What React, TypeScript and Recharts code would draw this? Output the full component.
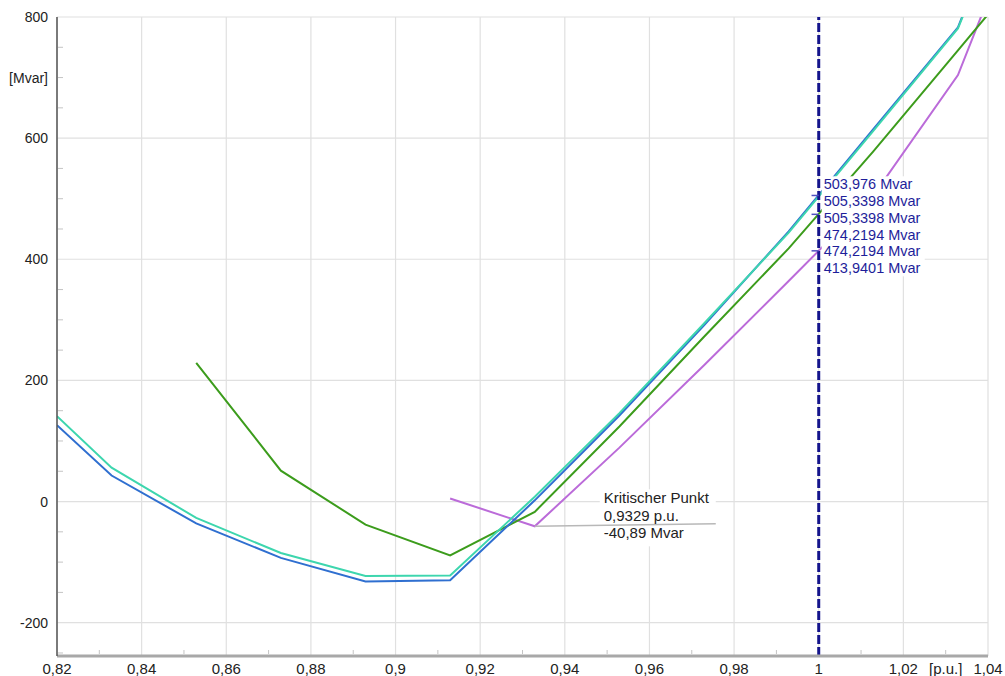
import React from 'react';
import { LineChart, Line, XAxis, YAxis, CartesianGrid, ReferenceLine, ReferenceDot } from 'recharts';

// voltage [p.u.] and reactive power [Mvar] per curve
const voltage = [0.82, 0.8329, 0.8529, 0.8729, 0.8929, 0.9129, 0.9329, 0.9529, 0.9729, 0.9929, 1.0129, 1.0329, 1.0529];
const qBlue = [126, 43, -36, -93, -132, -130, 2, 142, 291, 446, 615, 783, 1130];
const qTeal = [141, 56, -27, -85, -123, -122, 8, 146, 294, 444, 612, 781, 1130];
const qGreen = [null, null, 229, 51, -38, -89, -17, 124, 272, 418, 578, 745, 912];
const qPurple = [null, null, null, null, null, 5, -40.89, 89, 225, 364, 505, 704, 1058];

const xTicks = [0.82, 0.83, 0.84, 0.85, 0.86, 0.87, 0.88, 0.89, 0.9, 0.91, 0.92, 0.93, 0.94, 0.95, 0.96, 0.97, 0.98, 0.99, 1, 1.01, 1.02, 1.03, 1.04];
const xGridTicks = [0.82, 0.84, 0.86, 0.88, 0.9, 0.92, 0.94, 0.96, 0.98, 1, 1.02, 1.04];
const yTicks = [-250, -200, -150, -100, -50, 0, 50, 100, 150, 200, 250, 300, 350, 400, 450, 500, 550, 600, 650, 700, 750, 800];
const yGridTicks = [-200, 0, 200, 400, 600, 800];

const cursorU = 1;
const cursorValues = [503.976, 505.3398, 505.3398, 474.2194, 474.2194, 413.9401];
const cursorMarks = [505.3398, 474.2194, 413.9401];

const criticalU = 0.9329;
const criticalQ = -40.89;
const criticalLines = ['Kritischer Punkt', '0,9329 p.u.', '-40,89 Mvar'];

const data = voltage.map((u, i) => ({
  u,
  blue: qBlue[i],
  teal: qTeal[i],
  green: qGreen[i],
  purple: qPurple[i],
}));

const FONT = '"Liberation Sans", Arial, sans-serif';

const fmt = (v: number) => String(Math.round(v * 100) / 100).replace('.', ',');

const XTick = (props: any) => {
  const { x, y, payload } = props;
  const k = Math.round(payload.value * 100);
  const isUnit = k === 103;
  if (k % 2 === 1 && !isUnit) {
    return <line x1={x} x2={x} y1={y - 2} y2={y - 6} stroke="#c4c4c4" />;
  }
  return (
    <g>
      {isUnit && <line x1={x} x2={x} y1={y - 2} y2={y - 6} stroke="#c4c4c4" />}
      <text x={x} y={y + 18} textAnchor="middle" fontSize={15} fontFamily={FONT} fill="#222">
        {isUnit ? '[p.u.]' : fmt(payload.value)}
      </text>
    </g>
  );
};

const YTick = (props: any) => {
  const { x, y, payload } = props;
  const v = payload.value;
  if (v % 200 === 0) {
    return (
      <text x={x - 9} y={y + 5} textAnchor="end" fontSize={14} fontFamily={FONT} fill="#222">
        {v}
      </text>
    );
  }
  return (
    <g>
      <line x1={x + 1} x2={x + 6} y1={y} y2={y} stroke="#c4c4c4" />
      {v === 700 && (
        <text x={x - 9} y={y + 5} textAnchor="end" fontSize={14} fontFamily={FONT} fill="#222">
          [Mvar]
        </text>
      )}
    </g>
  );
};

const CursorLabels = (props: any) => {
  const { cx, cy } = props;
  return (
    <g>
      <rect x={cx + 3} y={cy - 20} width={103} height={100} fill="#fff" />
      {cursorValues.map((v, i) => (
        <text key={i} x={cx + 5} y={cy - 7 + i * 16.8} fontSize={14.5} fontFamily={FONT} fill="#1e1e9a">
          {String(v).replace('.', ',')} Mvar
        </text>
      ))}
    </g>
  );
};

const CriticalLabel = (props: any) => {
  const { cx, cy } = props;
  return (
    <g>
      <rect x={cx + 65} y={cy - 37} width={116} height={57} fill="#fff" />
      <line x1={cx} y1={cy} x2={cx + 181} y2={cy - 2.5} stroke="#b8b8b8" strokeWidth={1.5} />
      {criticalLines.map((t, i) => (
        <text key={i} x={cx + 69} y={cy - 23 + i * 17.5} fontSize={15} fontFamily={FONT} fill="#222">
          {t}
        </text>
      ))}
    </g>
  );
};

export default function App() {
  return (
    <div style={{ position: 'absolute', left: 0, top: 0, background: '#fff' }}>
      <LineChart width={1005} height={676} data={data} margin={{ top: 17, right: 17, left: 0, bottom: 0 }}>
        <XAxis xAxisId="grid" dataKey="u" type="number" domain={[0.82, 1.04]} ticks={xGridTicks} allowDataOverflow hide />
        <YAxis yAxisId="grid" type="number" domain={[-255, 800]} ticks={yGridTicks} allowDataOverflow hide />
        <CartesianGrid xAxisId="grid" yAxisId="grid" stroke="#e0e0e0" strokeWidth={1.2} />
        <XAxis
          dataKey="u"
          type="number"
          domain={[0.82, 1.04]}
          ticks={xTicks}
          interval={0}
          allowDataOverflow
          height={20}
          tickSize={0}
          tickMargin={0}
          tickLine={false}
          axisLine={{ stroke: '#a8a8a8', strokeWidth: 3 }}
          tick={<XTick />}
        />
        <YAxis
          type="number"
          domain={[-255, 800]}
          ticks={yTicks}
          interval={0}
          allowDataOverflow
          width={57}
          tickSize={0}
          tickMargin={0}
          tickLine={false}
          axisLine={{ stroke: '#555', strokeWidth: 1.5 }}
          tick={<YTick />}
        />
        <Line dataKey="purple" stroke="#bb6bd9" strokeWidth={2} dot={false} activeDot={false} isAnimationActive={false} />
        <Line dataKey="green" stroke="#3c9c1c" strokeWidth={2} dot={false} activeDot={false} isAnimationActive={false} />
        <Line dataKey="blue" stroke="#2f6fd0" strokeWidth={2} dot={false} activeDot={false} isAnimationActive={false} />
        <Line dataKey="teal" stroke="#3dd6ae" strokeWidth={2} dot={false} activeDot={false} isAnimationActive={false} />
        <ReferenceLine x={cursorU} stroke="#14148c" strokeWidth={3} strokeDasharray="9 3" />
        {cursorMarks.map((v) => (
          <ReferenceLine
            key={v}
            segment={[{ x: cursorU - 0.0017, y: v }, { x: cursorU, y: v }]}
            stroke="#5050c0"
            strokeWidth={1.5}
          />
        ))}
        <ReferenceDot x={cursorU} y={cursorValues[0]} r={0} shape={(p: any) => <CursorLabels {...p} />} />
        <ReferenceDot x={criticalU} y={criticalQ} r={0} shape={(p: any) => <CriticalLabel {...p} />} />
      </LineChart>
    </div>
  );
}
